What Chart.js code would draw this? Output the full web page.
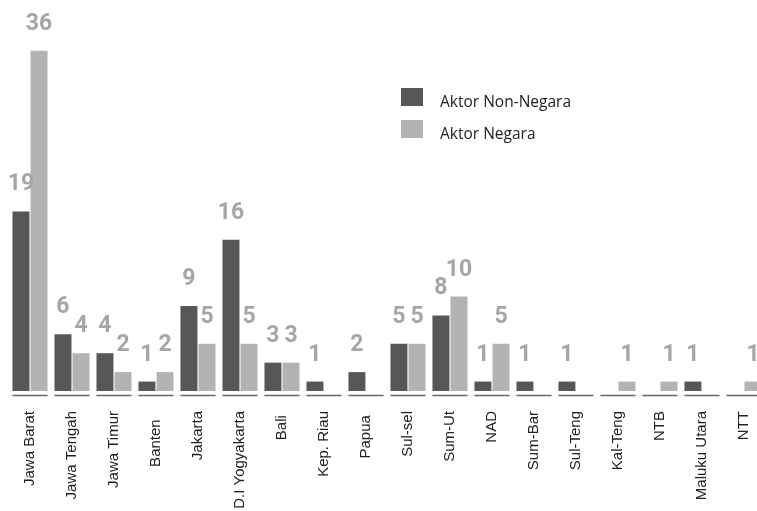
<!DOCTYPE html>
<html>
<head>
<meta charset="utf-8">
<script src="https://cdn.jsdelivr.net/npm/chart.js@4"></script>
<style>
html, body { margin: 0; padding: 0; background: #fff; overflow: hidden; }
#wrap { width: 782px; height: 511px; }
</style>
</head>
<body>
<div id="wrap"><canvas id="chart"></canvas></div>
<script>
// data
const provinsi = ["Jawa Barat", "Jawa Tengah", "Jawa Timur", "Banten  ", "Jakarta", "D.I Yogyakarta",
  "Bali ", "Kep. Riau", "Papua ", "Sul-sel", "Sum-Ut", "NAD", "Sum-Bar", "Sul-Teng",
  "Kal-Teng", "NTB", "Maluku Utara", "NTT"];
const nonNegara = [19, 6, 4, 1, 9, 16, 3, 1, 2, 5, 8, 1, 1, 1, 0, 0, 1, 0];
const negara = [36, 4, 2, 2, 5, 5, 3, 0, 0, 5, 10, 5, 0, 0, 1, 1, 0, 1];
const namaSeri = ["Aktor Non-Negara", "Aktor Negara"];
const warna = ["#575757", "#b3b3b3"];

const ctx = document.getElementById("chart").getContext("2d");

// garis pendek di bawah tiap kategori
const garisKategori = {
  id: "garisKategori",
  afterDraw(chart) {
    const x = chart.scales.x;
    const c = chart.ctx;
    const step = x.getPixelForValue(1) - x.getPixelForValue(0);
    const half = step * 0.835 / 2;
    const y = chart.chartArea.bottom + 4.5;
    c.save();
    c.strokeStyle = "#666";
    c.lineWidth = 1.6;
    provinsi.forEach((p, i) => {
      const cx = x.getPixelForValue(i);
      c.beginPath();
      c.moveTo(cx - half, y);
      c.lineTo(cx + half, y);
      c.stroke();
    });
    c.restore();
  }
};

// angka di atas batang
const labelNilai = {
  id: "labelNilai",
  afterDatasetsDraw(chart) {
    const c = chart.ctx;
    c.save();
    c.font = "bold 23px Roboto";
    c.fillStyle = "#a6a6a6";
    c.textAlign = "center";
    c.textBaseline = "alphabetic";
    chart.data.datasets.forEach((ds, di) => {
      const meta = chart.getDatasetMeta(di);
      meta.data.forEach((bar, i) => {
        const v = ds.data[i];
        if (!v) return;
        c.fillText(String(v), bar.x, bar.y - 21);
      });
    });
    c.restore();
  }
};

// legenda
const legenda = {
  id: "legenda",
  afterDraw(chart) {
    const c = chart.ctx;
    c.save();
    c.font = "15.5px 'Open Sans'";
    c.textBaseline = "alphabetic";
    chart.data.datasets.forEach((ds, i) => {
      const y = 88 + i * 32;
      c.fillStyle = ds.backgroundColor;
      c.fillRect(401, y, 22, 18);
      c.fillStyle = "#222";
      c.fillText(ds.label, 440, y + 19);
    });
    c.restore();
  }
};

new Chart(ctx, {
  type: "bar",
  data: {
    labels: provinsi,
    datasets: [
      { label: namaSeri[0], data: nonNegara, backgroundColor: warna[0] },
      { label: namaSeri[1], data: negara, backgroundColor: warna[1] }
    ]
  },
  options: {
    responsive: true,
    maintainAspectRatio: false,
    animation: false,
    categoryPercentage: 0.86,
    barPercentage: 0.94,
    layout: { padding: { left: 9, right: 2, top: 13, bottom: 0 } },
    plugins: {
      legend: { display: false },
      tooltip: { enabled: false }
    },
    scales: {
      x: {
        grid: { display: false, drawTicks: false },
        border: { display: false },
        ticks: {
          autoSkip: false,
          minRotation: 90,
          maxRotation: 90,
          padding: 20,
          color: "#222",
          font: { family: "'Liberation Sans', Arial", size: 15 }
        },
        afterFit: s => { s.height = 120; }
      },
      y: {
        display: false,
        min: 0,
        max: 40
      }
    }
  },
  plugins: [garisKategori, labelNilai, legenda]
});
</script>
</body>
</html>
